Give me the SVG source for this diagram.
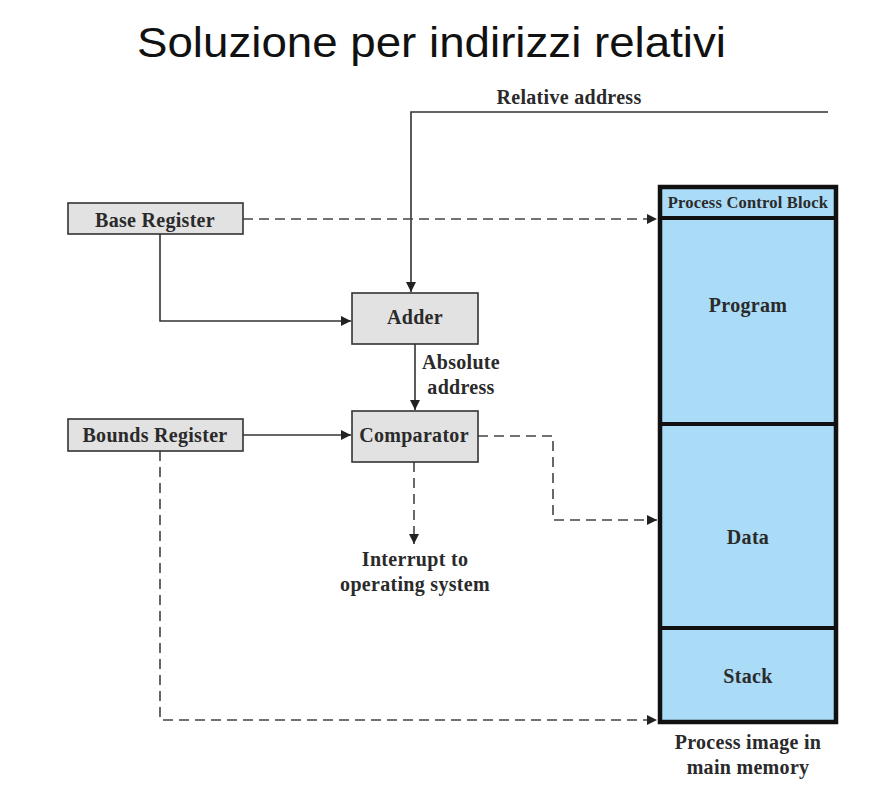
<svg xmlns="http://www.w3.org/2000/svg" width="886" height="804" viewBox="0 0 886 804">
  <style>
    .title { font-family: "Liberation Sans", "DejaVu Sans", sans-serif; font-size: 43px; fill: #111; }
    .lbl { font-family: "Liberation Serif", "DejaVu Serif", serif; font-weight: bold; font-size: 20px; letter-spacing: 0.3px; fill: #2a2a2a; text-anchor: middle; }
    .small { font-size: 16.5px; letter-spacing: 0.2px; }
    .box { fill: #e2e2e2; stroke: #333; stroke-width: 1.6; }
    .mem { fill: #aadcf7; stroke: #111; stroke-width: 4.5; }
    .div { stroke: #111; stroke-width: 4; }
    .solid { fill: none; stroke: #333; stroke-width: 1.6; }
    .dash { fill: none; stroke: #444; stroke-width: 1.6; stroke-dasharray: 10 6; }
  </style>
  <defs>
    <marker id="arr" viewBox="0 0 10 10" refX="10" refY="5" markerWidth="10" markerHeight="10" markerUnits="userSpaceOnUse" orient="auto">
      <path d="M0,0 L10,5 L0,10 z" fill="#222"/>
    </marker>
  </defs>

  <rect width="886" height="804" fill="#fff"/>

  <text class="title" x="137" y="57" textLength="589" lengthAdjust="spacingAndGlyphs">Soluzione per indirizzi relativi</text>

  <g id="connectors">
    <!-- relative address input -->
    <path class="solid" d="M828,112 H411 V292" marker-end="url(#arr)"/>
    <!-- base register to adder -->
    <path class="solid" d="M160,234 V321 H351" marker-end="url(#arr)"/>
    <!-- base register to PCB -->
    <path class="dash" d="M243,219 H657" marker-end="url(#arr)"/>
    <!-- adder to comparator -->
    <path class="solid" d="M415,344 V410" marker-end="url(#arr)"/>
    <!-- bounds register to comparator -->
    <path class="solid" d="M243,435 H351" marker-end="url(#arr)"/>
    <!-- comparator to data -->
    <path class="dash" d="M478,436 H553 V520 H657" marker-end="url(#arr)"/>
    <!-- comparator to interrupt -->
    <path class="dash" d="M414,462 V544" marker-end="url(#arr)"/>
    <!-- bounds register to end of image -->
    <path class="dash" d="M160,451 V720 H657" marker-end="url(#arr)"/>
  </g>

  <text class="lbl" x="569" y="104">Relative address</text>
  <text class="lbl" x="461" y="369">Absolute</text>
  <text class="lbl" x="461" y="394">address</text>

  <g id="base-register">
    <rect class="box" x="68" y="203" width="175" height="31"/>
    <text class="lbl" x="155" y="227">Base Register</text>
  </g>

  <g id="bounds-register">
    <rect class="box" x="68" y="419" width="175" height="32"/>
    <text class="lbl" x="155" y="442">Bounds Register</text>
  </g>

  <g id="adder">
    <rect class="box" x="352" y="293" width="126" height="51"/>
    <text class="lbl" x="415" y="324">Adder</text>
  </g>

  <g id="comparator">
    <rect class="box" x="352" y="411" width="126" height="51"/>
    <text class="lbl" x="414" y="442">Comparator</text>
  </g>

  <g id="interrupt">
    <text class="lbl" x="415" y="566">Interrupt to</text>
    <text class="lbl" x="415" y="591">operating system</text>
  </g>

  <g id="process-image">
    <rect class="mem" x="660" y="187" width="176" height="535"/>
    <line class="div" x1="660" y1="218" x2="836" y2="218"/>
    <line class="div" x1="660" y1="424" x2="836" y2="424"/>
    <line class="div" x1="660" y1="628" x2="836" y2="628"/>
    <text class="lbl small" x="748" y="208">Process Control Block</text>
    <text class="lbl" x="748" y="312">Program</text>
    <text class="lbl" x="748" y="544">Data</text>
    <text class="lbl" x="748" y="683">Stack</text>
    <text class="lbl" x="748" y="749">Process image in</text>
    <text class="lbl" x="748" y="774">main memory</text>
  </g>
</svg>
